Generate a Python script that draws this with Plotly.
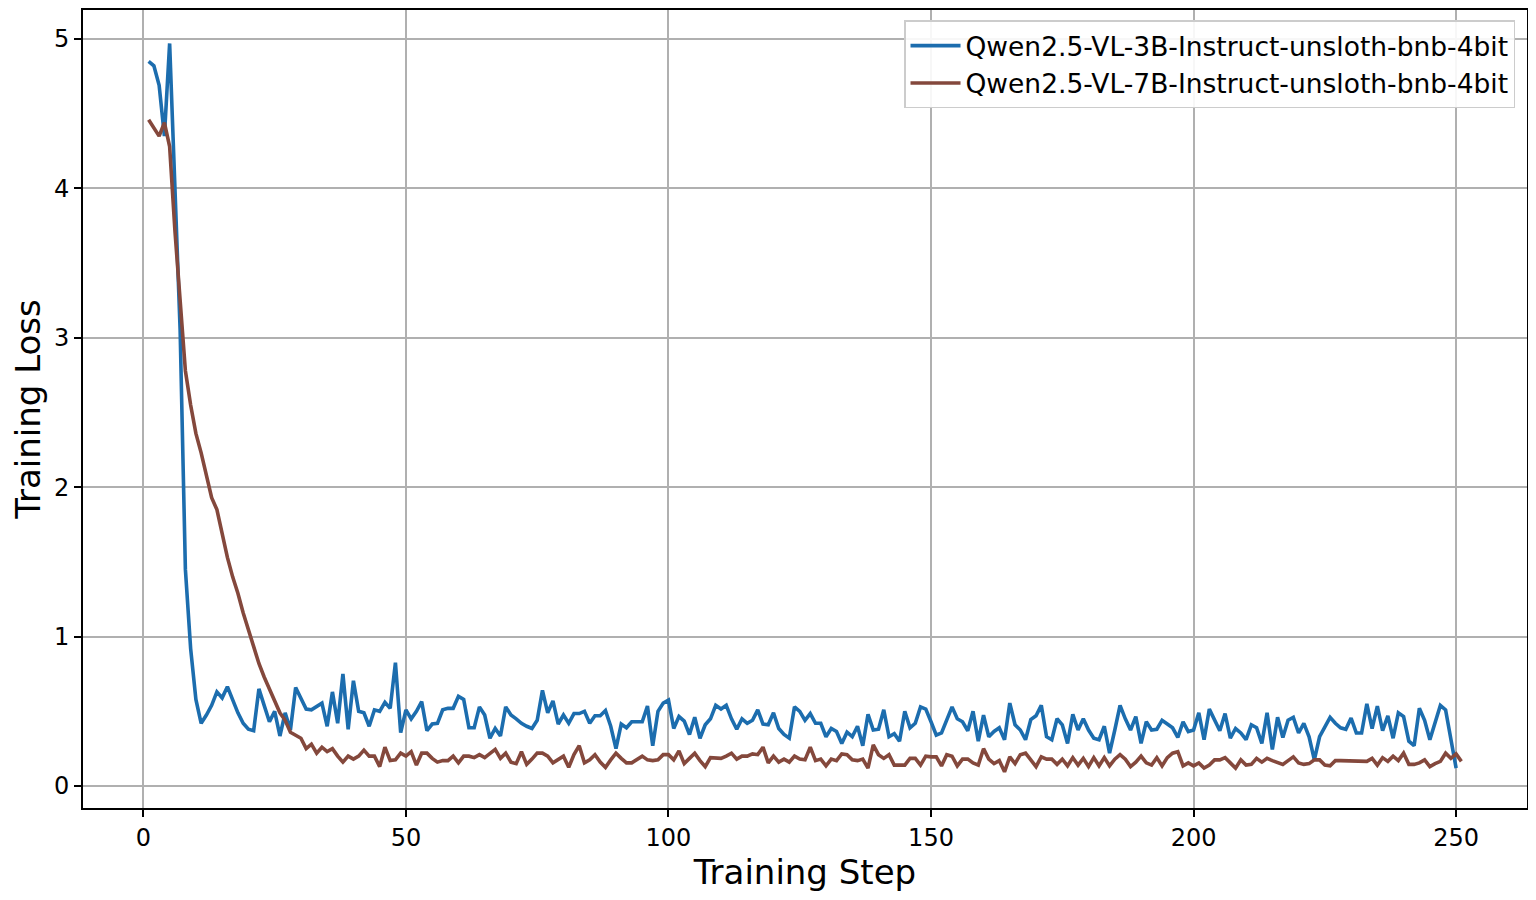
import plotly.graph_objects as go

series_3b_name = "Qwen2.5-VL-3B-Instruct-unsloth-bnb-4bit"
series_7b_name = "Qwen2.5-VL-7B-Instruct-unsloth-bnb-4bit"

loss_3b = [
    4.85, 4.82, 4.69, 4.35, 4.97, 4.0, 3.05, 1.45, 0.92, 0.58,
    0.42, 0.475, 0.54, 0.63, 0.59, 0.665, 0.575, 0.49, 0.42, 0.38,
    0.37, 0.65, 0.54, 0.43, 0.50, 0.335, 0.49, 0.375, 0.66, 0.59,
    0.515, 0.51, 0.535, 0.555, 0.40, 0.63, 0.42, 0.75, 0.38, 0.705,
    0.50, 0.49, 0.40, 0.51, 0.50, 0.56, 0.52, 0.826, 0.357, 0.51,
    0.45, 0.50, 0.565, 0.37, 0.415, 0.42, 0.51, 0.52, 0.52, 0.60,
    0.58, 0.39, 0.39, 0.53, 0.475, 0.32, 0.385, 0.335, 0.53, 0.475,
    0.45, 0.42, 0.40, 0.385, 0.44, 0.64, 0.49, 0.57, 0.415, 0.475,
    0.42, 0.485, 0.485, 0.50, 0.42, 0.47, 0.47, 0.505, 0.40, 0.25,
    0.415, 0.39, 0.43, 0.43, 0.43, 0.535, 0.27, 0.50, 0.555, 0.575,
    0.385, 0.465, 0.435, 0.345, 0.46, 0.32, 0.41, 0.45, 0.54, 0.515,
    0.54, 0.45, 0.38, 0.45, 0.42, 0.44, 0.51, 0.415, 0.41, 0.49,
    0.385, 0.345, 0.32, 0.53, 0.50, 0.44, 0.485, 0.42, 0.42, 0.33,
    0.385, 0.365, 0.285, 0.36, 0.33, 0.40, 0.27, 0.48, 0.375, 0.38,
    0.51, 0.33, 0.35, 0.30, 0.50, 0.39, 0.42, 0.53, 0.515, 0.43,
    0.34, 0.355, 0.45, 0.53, 0.45, 0.43, 0.37, 0.50, 0.30, 0.475,
    0.33, 0.365, 0.39, 0.31, 0.555, 0.41, 0.375, 0.31, 0.445, 0.47,
    0.54, 0.33, 0.31, 0.45, 0.41, 0.285, 0.48, 0.375, 0.45, 0.375,
    0.32, 0.31, 0.40, 0.22, 0.375, 0.54, 0.45, 0.375, 0.465, 0.285,
    0.43, 0.375, 0.38, 0.44, 0.415, 0.39, 0.325, 0.43, 0.365, 0.375,
    0.49, 0.31, 0.515, 0.44, 0.37, 0.485, 0.32, 0.385, 0.355, 0.31,
    0.41, 0.39, 0.285, 0.49, 0.245, 0.46, 0.325, 0.44, 0.46, 0.355,
    0.42, 0.33, 0.175, 0.33, 0.39, 0.46, 0.42, 0.39, 0.38, 0.455,
    0.355, 0.355, 0.55, 0.385, 0.535, 0.37, 0.47, 0.32, 0.49, 0.465,
    0.30, 0.27, 0.52, 0.44, 0.31, 0.42, 0.54, 0.51, 0.31, 0.12,
]

loss_7b = [
    4.46, 4.40, 4.35, 4.44, 4.28, 3.72, 3.22, 2.78, 2.55, 2.36,
    2.23, 2.09, 1.93, 1.85, 1.69, 1.53, 1.40, 1.29, 1.16, 1.04,
    0.93, 0.82, 0.73, 0.65, 0.58, 0.49, 0.44, 0.36, 0.34, 0.32,
    0.25, 0.28, 0.22, 0.26, 0.23, 0.25, 0.20, 0.16, 0.20, 0.18,
    0.20, 0.24, 0.20, 0.20, 0.13, 0.26, 0.17, 0.175, 0.22, 0.20,
    0.23, 0.14, 0.22, 0.22, 0.185, 0.16, 0.17, 0.17, 0.20, 0.155,
    0.20, 0.20, 0.19, 0.21, 0.19, 0.22, 0.245, 0.185, 0.22, 0.16,
    0.15, 0.23, 0.145, 0.18, 0.22, 0.22, 0.20, 0.155, 0.175, 0.20,
    0.125, 0.21, 0.27, 0.155, 0.175, 0.21, 0.16, 0.125, 0.175, 0.22,
    0.185, 0.155, 0.155, 0.175, 0.20, 0.175, 0.17, 0.175, 0.21, 0.21,
    0.175, 0.235, 0.15, 0.185, 0.22, 0.17, 0.13, 0.19, 0.185, 0.185,
    0.20, 0.22, 0.18, 0.20, 0.20, 0.215, 0.21, 0.26, 0.155, 0.20,
    0.16, 0.18, 0.16, 0.20, 0.18, 0.175, 0.26, 0.17, 0.18, 0.135,
    0.18, 0.17, 0.215, 0.21, 0.175, 0.17, 0.18, 0.12, 0.275, 0.21,
    0.185, 0.21, 0.14, 0.14, 0.14, 0.185, 0.185, 0.14, 0.20, 0.195,
    0.195, 0.135, 0.21, 0.20, 0.135, 0.18, 0.18, 0.155, 0.14, 0.25,
    0.18, 0.15, 0.17, 0.095, 0.195, 0.15, 0.21, 0.22, 0.17, 0.13,
    0.195, 0.18, 0.18, 0.145, 0.18, 0.135, 0.19, 0.14, 0.185, 0.13,
    0.19, 0.135, 0.19, 0.135, 0.18, 0.21, 0.18, 0.13, 0.16, 0.20,
    0.155, 0.14, 0.19, 0.135, 0.19, 0.22, 0.23, 0.135, 0.155, 0.135,
    0.155, 0.12, 0.14, 0.175, 0.175, 0.19, 0.155, 0.12, 0.175, 0.14,
    0.145, 0.185, 0.16, 0.185, 0.17, 0.155, 0.145, 0.17, 0.195, 0.155,
    0.145, 0.15, 0.175, 0.175, 0.14, 0.135, 0.17, 0.17, 0.17, 0.17,
    0.165, 0.17, 0.165, 0.185, 0.14, 0.19, 0.165, 0.20, 0.17, 0.22,
    0.145, 0.145, 0.155, 0.175, 0.13, 0.15, 0.165, 0.22, 0.185, 0.215, 0.165,
]

steps_3b = list(range(1, len(loss_3b) + 1))
steps_7b = list(range(1, len(loss_7b) + 1))

x_title = "Training Step"
y_title = "Training Loss"

FONT = "DejaVu Sans"

fig = go.Figure()
fig.add_trace(go.Scatter(x=steps_3b, y=loss_3b, mode="lines", name=series_3b_name,
                         line=dict(color="#1c6dae", width=3.6)))
fig.add_trace(go.Scatter(x=steps_7b, y=loss_7b, mode="lines", name=series_7b_name,
                         line=dict(color="#84483c", width=3.6)))

axis_common = dict(
    showline=True, linecolor="black", linewidth=1.8, mirror=True,
    showgrid=True, gridcolor="#b0b0b0", gridwidth=1.6,
    ticks="outside", ticklen=7, tickwidth=1.6, tickcolor="black",
    tickfont=dict(family=FONT, size=24, color="black"),
    zeroline=False, automargin=False,
)

fig.update_xaxes(range=[-11.5, 263.5], tick0=0, dtick=50,
                 title=dict(text=x_title, font=dict(family=FONT, size=34, color="black"), standoff=8),
                 **axis_common)
fig.update_yaxes(range=[-0.147, 5.194], tick0=0, dtick=1,
                 title=dict(text=y_title, font=dict(family=FONT, size=34, color="black"), standoff=10),
                 **axis_common)

# page body has an 8px margin, so the figure is shifted by 8px
fig.update_layout(
    width=1528, height=892,
    margin=dict(l=75, r=9, t=2, b=92, autoexpand=False),
    plot_bgcolor="white", paper_bgcolor="white",
    font=dict(family=FONT, color="black"),
    legend=dict(x=0.9917, y=0.987, xanchor="right", yanchor="top",
                bgcolor="rgba(255,255,255,0.9)", bordercolor="#cccccc", borderwidth=1.5,
                font=dict(family=FONT, size=26.5, color="black"),
                itemwidth=50, tracegroupgap=6),
    showlegend=True,
)

fig.write_html("out.html")
